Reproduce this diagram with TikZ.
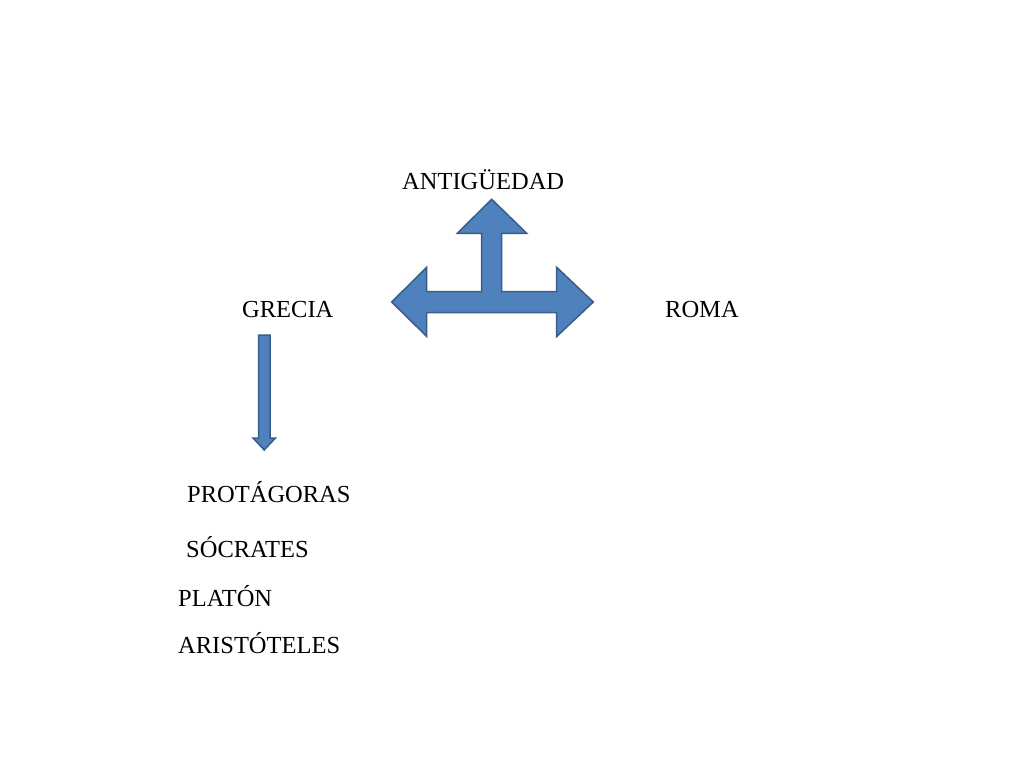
\documentclass[tikz,border=0pt]{standalone}
\usepackage{fontspec}
\setmainfont{Liberation Serif}
\definecolor{arrowfill}{HTML}{4F81BD}
\definecolor{arrowline}{HTML}{385D8A}
\begin{document}
\begin{tikzpicture}[x=1pt,y=-1pt,
  word/.style={anchor=base west,inner sep=0pt,font=\fontsize{24.5}{29}\selectfont},
  blockarrow/.style={fill=arrowfill,draw=arrowline,line width=1.5pt,line join=miter}]
  \useasboundingbox (0,0) rectangle (1024,768);
  \node[word] (antig) at (402,189) {ANTIGÜEDAD};
  \node[word] (grecia) at (242,317) {GRECIA};
  \node[word] (roma) at (665,317) {ROMA};
  \node[word] (protagoras) at (187,502) {PROTÁGORAS};
  \node[word] (socrates) at (186,557) {SÓCRATES};
  \node[word] (platon) at (178,606) {PLATÓN};
  \node[word] (aristoteles) at (178,653) {ARISTÓTELES};
  % three way arrow
  \draw[blockarrow] (491.7,199.3) -- (526.7,233.3) -- (501.7,233.3) -- (501.7,291.7)
    -- (556.7,291.7) -- (556.7,267.3) -- (593.3,302) -- (556.7,336.5) -- (556.7,312.7)
    -- (426.7,312.7) -- (426.7,336.5) -- (391.7,302) -- (426.7,267.3) -- (426.7,291.7)
    -- (481.7,291.7) -- (481.7,233.3) -- (457.3,233.3) -- cycle;
  % down arrow
  \draw[blockarrow] (258.5,335) -- (270,335) -- (270,438) -- (275.5,438) -- (264.2,450)
    -- (253,438) -- (258.5,438) -- cycle;
\end{tikzpicture}
\end{document}
